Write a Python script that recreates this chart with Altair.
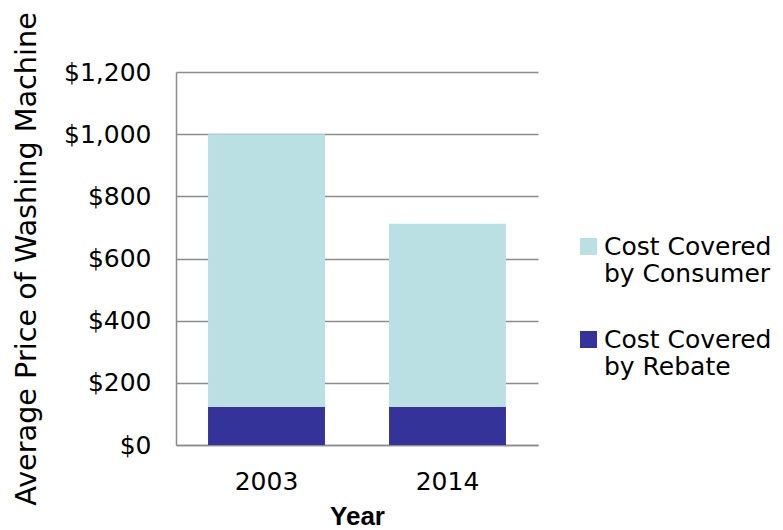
import altair as alt
import pandas as pd

years = ["2003", "2014", "2003", "2014"]
series = ["Cost Covered by Rebate", "Cost Covered by Rebate",
          "Cost Covered by Consumer", "Cost Covered by Consumer"]
values = [123, 123, 877, 589]
stack_order = [0, 0, 1, 1]

y_ticks = [0, 200, 400, 600, 800, 1000, 1200]
legend_order = ["Cost Covered by Consumer", "Cost Covered by Rebate"]
colors = ["#bae0e3", "#333399"]

df = pd.DataFrame({"Year": years, "Series": series, "Value": values, "ord": stack_order})

GRAY = "#8c8c8c"
FONT = "DejaVu Sans"

chart = alt.Chart(df).mark_bar().encode(
    x=alt.X("Year:N",
            scale=alt.Scale(paddingInner=0.354, paddingOuter=0.177),
            axis=alt.Axis(title="Year", labelAngle=0, ticks=False, labelPadding=24,
                          labelFontSize=25, labelFont=FONT, labelColor="#000",
                          titleFontSize=26, titleFont="Liberation Sans", titleFontWeight="bold",
                          titleColor="#000", titlePadding=9,
                          domainColor=GRAY, domainWidth=1.5)),
    y=alt.Y("Value:Q", stack="zero",
            scale=alt.Scale(domain=[0, 1200], nice=False),
            axis=alt.Axis(title="Average Price of Washing Machine", values=y_ticks,
                          format="$,.0f", ticks=False, labelPadding=25,
                          labelFontSize=25, labelFont=FONT, labelColor="#000",
                          titleFontSize=28.7, titleFont=FONT, titleFontWeight="normal",
                          titleColor="#000", titlePadding=22,
                          gridColor=GRAY, gridWidth=1.5, gridOpacity=1,
                          domainColor=GRAY, domainWidth=1.5)),
    color=alt.Color("Series:N",
                    scale=alt.Scale(domain=legend_order, range=colors),
                    legend=alt.Legend(title=None, orient="none", legendX=400, legendY=162,
                                      symbolType="square", symbolSize=289,
                                      symbolStrokeWidth=0, labelFontSize=25, labelFont=FONT,
                                      labelColor="#000", labelOffset=3,
                                      labelBaseline="middle", rowPadding=40,
                                      labelLimit=300,
                                      labelExpr="[slice(datum.label,0,12), slice(datum.label,13)]")),
    order=alt.Order("ord:Q"),
).properties(
    width=362, height=373,
    autosize=alt.AutoSizeParams(type="none"),
    padding={"left": 168, "top": 64, "right": 237, "bottom": 85},
).configure_view(stroke=None).configure_axis(grid=True).configure_axisX(grid=False)

chart.save("out.html", embed_options={"renderer": "svg", "actions": False})
